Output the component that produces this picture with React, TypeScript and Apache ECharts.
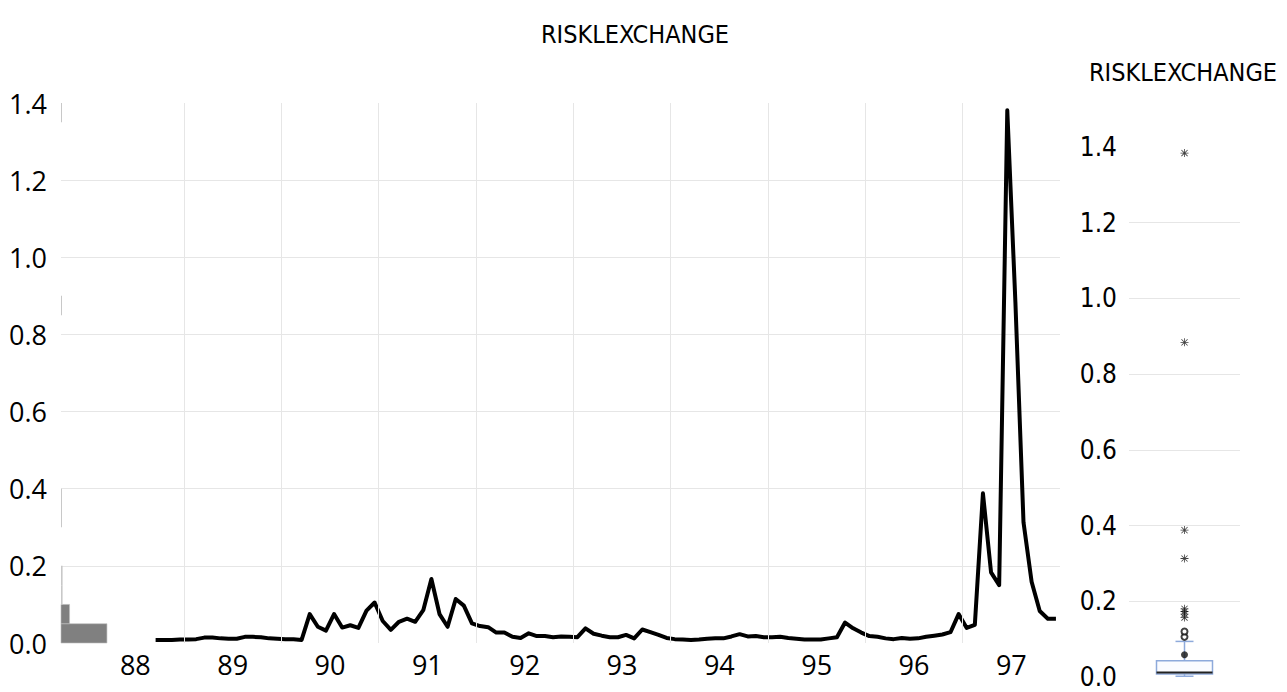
import React, { useEffect, useRef } from "react";
import * as echarts from "echarts";

const TITLE = "RISKLEXCHANGE";
// first observation sits 8.5 months into 1988, one observation per month
const START_YEAR = 1988;
const START_OFFSET_MONTHS = 8.5;

const riskValues = [
  0.008, 0.008, 0.008, 0.009, 0.009, 0.010, 0.014, 0.014, 0.012, 0.011,
  0.011, 0.016, 0.016, 0.015, 0.012, 0.011, 0.010, 0.010, 0.008, 0.075,
  0.042, 0.032, 0.075, 0.040, 0.046, 0.039, 0.084, 0.105, 0.057, 0.034,
  0.055, 0.063, 0.055, 0.085, 0.166, 0.075, 0.042, 0.114, 0.097, 0.051,
  0.044, 0.041, 0.027, 0.027, 0.016, 0.013, 0.025, 0.018, 0.018, 0.015,
  0.017, 0.016, 0.015, 0.038, 0.024, 0.019, 0.015, 0.015, 0.021, 0.012,
  0.035, 0.028, 0.021, 0.013, 0.010, 0.009, 0.008, 0.009, 0.011, 0.012,
  0.012, 0.017, 0.023, 0.017, 0.018, 0.015, 0.015, 0.016, 0.013, 0.011,
  0.009, 0.009, 0.009, 0.012, 0.015, 0.053, 0.038, 0.027, 0.018, 0.016,
  0.012, 0.010, 0.013, 0.011, 0.012, 0.016, 0.019, 0.022, 0.028, 0.075,
  0.039, 0.047, 0.388, 0.183, 0.150, 1.381, 0.884, 0.313, 0.159, 0.083,
  0.063, 0.063,
];

const gridYears = [1989, 1990, 1991, 1992, 1993, 1994, 1995, 1996, 1997];
const firstLabelYear = 1988;

// box plot
const boxStats = [0.002, 0.008, 0.012, 0.043, 0.094]; // min, q1, median, q3, max
const boxMean = [0.059];
const nearOutliers = [0.106, 0.12];
const farOutliers = [0.157, 0.166, 0.173, 0.18, 0.313, 0.388, 0.884, 1.384];

const BIN_WIDTH = 0.05;

const FONT = "'Open Sans', 'Noto Sans', sans-serif";
const NARROW = "'Liberation Sans Narrow', 'DejaVu Sans Condensed', 'Open Sans', sans-serif";
const GRID_COLOR = "#e6e6e6";
const BOX_BLUE = "#8eaadb";

const STAR_PATH =
  "path://M4.5 0H5.5V10H4.5ZM0 4.5H10V5.5H0ZM0.8 1.5L1.5 0.8L9.2 8.5L8.5 9.2ZM8.5 0.8L9.2 1.5L1.5 9.2L0.8 8.5Z";

export default function App() {
  const ref = useRef<HTMLDivElement>(null);

  useEffect(() => {
    if (!ref.current) return;
    const chart = echarts.init(ref.current, undefined, { renderer: "svg" });

    const lineData = riskValues.map((v, i) => [
      START_YEAR + (START_OFFSET_MONTHS + i) / 12,
      v,
    ]);

    // histogram of the series (horizontal bars along the y axis)
    const nBins = Math.ceil(Math.max(...riskValues) / BIN_WIDTH) + 1;
    const counts = new Array(nBins).fill(0);
    riskValues.forEach((v) => {
      counts[Math.min(nBins - 1, Math.floor(v / BIN_WIDTH))] += 1;
    });
    const histData = counts
      .map((c, b) => [c, b * BIN_WIDTH, (b + 1) * BIN_WIDTH])
      .filter((d) => d[0] > 0);

    const yLabel = (v: number) => {
      const k = v / 0.2;
      if (Math.abs(k - Math.round(k)) > 1e-6) return "";
      return v.toFixed(1);
    };

    chart.setOption({
      animation: false,
      backgroundColor: "#ffffff",
      graphic: [
        {
          type: "text",
          x: 635,
          y: 34,
          style: {
            text: TITLE,
            font: `25px ${NARROW}`,
            fill: "#000",
            textAlign: "center",
            textVerticalAlign: "middle",
          },
        },
        {
          type: "text",
          x: 1183,
          y: 72,
          style: {
            text: TITLE,
            font: `25px ${NARROW}`,
            fill: "#000",
            textAlign: "center",
            textVerticalAlign: "middle",
          },
        },
      ],
      grid: [
        { left: 61, right: 227, top: 103, bottom: 49 },
        { left: 38, right: 227, top: 103, bottom: 49 },
        { left: 1129, right: 47, top: 147, bottom: 15 },
      ],
      xAxis: [
        { gridIndex: 0, type: "value", min: 0, max: 1870, show: false },
        {
          gridIndex: 1,
          type: "value",
          min: 1987.5,
          max: 1998,
          interval: 1,
          axisLine: { show: false },
          axisTick: { show: false },
          splitLine: { show: false },
          axisLabel: {
            margin: 8,
            fontSize: 27,
            fontFamily: FONT,
            color: "#000",
            formatter: (v: number) => {
              const y = v - 0.5;
              if (Math.abs(y - Math.round(y)) > 1e-6 || y < firstLabelYear - 0.01) return "";
              return String(Math.round(y)).slice(2);
            },
          },
        },
        { gridIndex: 2, type: "value", min: 0, max: 1, show: false },
      ],
      yAxis: [
        {
          gridIndex: 0,
          type: "value",
          min: 0,
          max: 1.4,
          interval: 0.2,
          axisLine: { show: false },
          axisTick: { show: false },
          axisLabel: {
            margin: 14,
            fontSize: 27,
            fontFamily: FONT,
            color: "#000",
            formatter: yLabel,
          },
          splitLine: {
            show: true,
            showMinLine: false,
            showMaxLine: false,
            lineStyle: { color: GRID_COLOR, width: 1 },
          },
        },
        { gridIndex: 1, type: "value", min: 0, max: 1.4, show: false },
        {
          gridIndex: 2,
          type: "value",
          min: 0,
          max: 1.4,
          interval: 0.2,
          axisLine: { show: false },
          axisTick: { show: false },
          axisLabel: {
            margin: 12,
            fontSize: 26,
            fontFamily: NARROW,
            color: "#000",
            formatter: yLabel,
          },
          splitLine: {
            show: true,
            showMinLine: false,
            showMaxLine: false,
            lineStyle: { color: GRID_COLOR, width: 1 },
          },
        },
      ],
      series: [
        {
          type: "custom",
          name: "histogram",
          xAxisIndex: 0,
          yAxisIndex: 0,
          silent: true,
          data: histData,
          renderItem: (params: any, api: any) => {
            const top = api.coord([0, api.value(2)]);
            const bot = api.coord([api.value(0), api.value(1)]);
            const w = Math.max(1, bot[0] - top[0]);
            const solid = api.value(0) > 4;
            return {
              type: "rect",
              shape: { x: top[0], y: top[1], width: w, height: bot[1] - top[1] },
              style: {
                fill: solid ? "#808080" : "#c8c8c8",
                stroke: solid ? "#bdbdbd" : null,
                lineWidth: 0.6,
              },
            };
          },
        },
        {
          type: "line",
          name: "gridlines",
          xAxisIndex: 1,
          yAxisIndex: 1,
          z: 1,
          silent: true,
          data: lineData,
          showSymbol: false,
          symbol: "none",
          lineStyle: { opacity: 0 },
          markLine: {
            silent: true,
            symbol: ["none", "none"],
            label: { show: false },
            lineStyle: { color: GRID_COLOR, width: 1, type: "solid" },
            data: gridYears.map((y) => ({ xAxis: y })),
          },
        },
        {
          type: "line",
          name: TITLE,
          xAxisIndex: 1,
          yAxisIndex: 1,
          z: 3,
          data: lineData,
          showSymbol: false,
          symbol: "none",
          lineStyle: { color: "#000", width: 4, join: "round" },
        },
        {
          type: "custom",
          name: "box",
          xAxisIndex: 2,
          yAxisIndex: 2,
          silent: true,
          data: [[0.5, ...boxStats]],
          renderItem: (params: any, api: any) => {
            const cx = api.coord([api.value(0), 0])[0];
            const yMin = api.coord([0, api.value(1)])[1];
            const yQ1 = api.coord([0, api.value(2)])[1];
            const yMed = api.coord([0, api.value(3)])[1];
            const yQ3 = api.coord([0, api.value(4)])[1];
            const yMax = api.coord([0, api.value(5)])[1];
            const boxW = 56;
            const capW = 18;
            const ls = { stroke: BOX_BLUE, lineWidth: 1.5 };
            return {
              type: "group",
              children: [
                { type: "line", shape: { x1: cx, y1: yMax, x2: cx, y2: yQ3 }, style: ls },
                { type: "line", shape: { x1: cx, y1: yQ1, x2: cx, y2: yMin }, style: ls },
                { type: "line", shape: { x1: cx - capW / 2, y1: yMax, x2: cx + capW / 2, y2: yMax }, style: ls },
                { type: "line", shape: { x1: cx - capW / 2, y1: yMin, x2: cx + capW / 2, y2: yMin }, style: ls },
                {
                  type: "rect",
                  shape: { x: cx - boxW / 2, y: yQ3, width: boxW, height: yQ1 - yQ3 },
                  style: { fill: "#fbfcff", stroke: BOX_BLUE, lineWidth: 1.5 },
                },
                {
                  type: "line",
                  shape: { x1: cx - boxW / 2, y1: yMed, x2: cx + boxW / 2, y2: yMed },
                  style: { stroke: "#222", lineWidth: 2 },
                },
              ],
            };
          },
        },
        {
          type: "scatter",
          name: "mean",
          xAxisIndex: 2,
          yAxisIndex: 2,
          silent: true,
          z: 4,
          symbol: "circle",
          symbolSize: 7,
          itemStyle: { color: "#111" },
          data: boxMean.map((v) => [0.5, v]),
        },
        {
          type: "scatter",
          name: "near outliers",
          xAxisIndex: 2,
          yAxisIndex: 2,
          silent: true,
          z: 4,
          symbol: "emptyCircle",
          symbolSize: 6,
          itemStyle: { color: "#111", borderWidth: 1.2 },
          data: nearOutliers.map((v) => [0.5, v]),
        },
        {
          type: "scatter",
          name: "far outliers",
          xAxisIndex: 2,
          yAxisIndex: 2,
          silent: true,
          z: 4,
          symbol: STAR_PATH,
          symbolSize: 8,
          itemStyle: { color: "#111" },
          data: farOutliers.map((v) => [0.5, v]),
        },
      ],
    });

    return () => chart.dispose();
  }, []);

  return (
    <div
      ref={ref}
      style={{ position: "fixed", left: 0, top: 0, width: 1287, height: 692, background: "#fff" }}
    />
  );
}
